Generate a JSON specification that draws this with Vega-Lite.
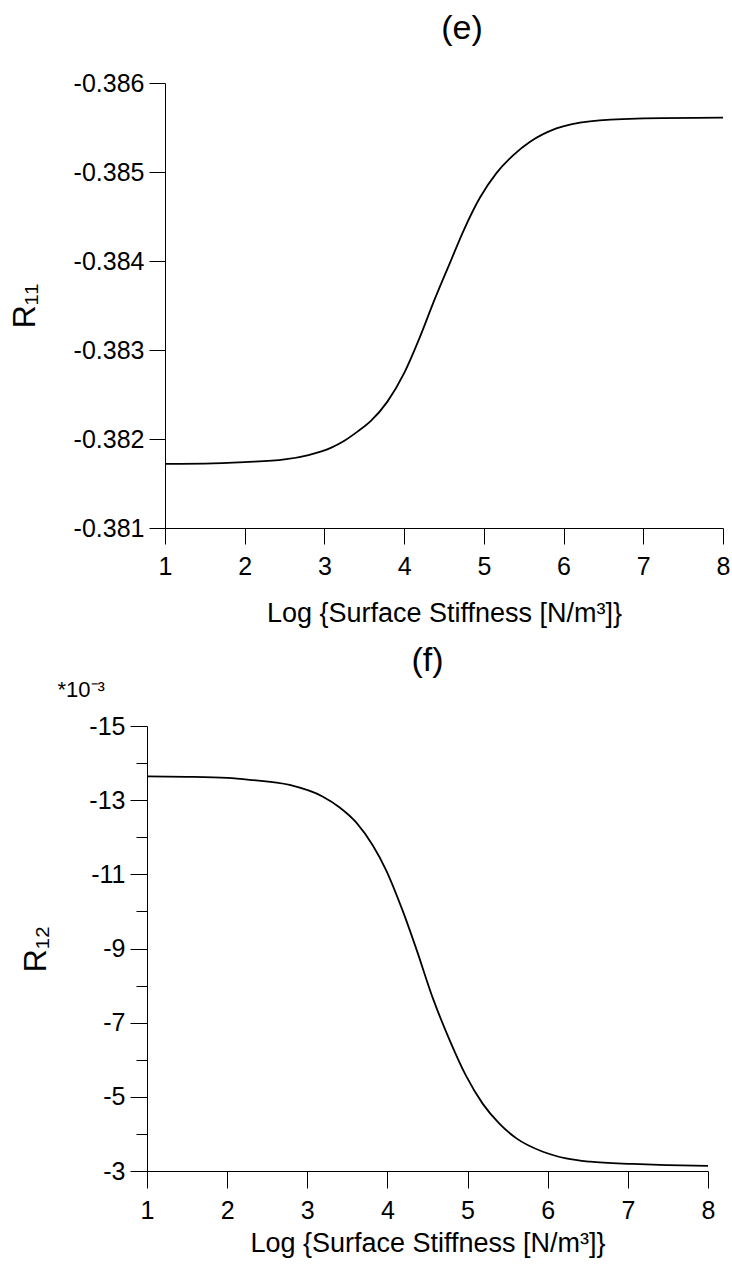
{
  "$schema": "https://vega.github.io/schema/vega-lite/v6.json",
  "padding": {"left": 8, "top": 12, "right": 0, "bottom": 12},
  "config": {
    "view": {"stroke": null},
    "font": "Liberation Sans",
    "axis": {
      "grid": false,
      "domainColor": "black",
      "domainWidth": 1,
      "tickColor": "black",
      "tickWidth": 1,
      "labelColor": "black",
      "labelFontSize": 25,
      "labelFlush": false,
      "labelOverlap": false,
      "titleColor": "black",
      "titleFontWeight": "normal"
    },
    "title": {"fontWeight": "normal", "color": "black"}
  },
  "datasets": {
    "e": [
      {"x": 1, "r": -0.38172},
      {"x": 1.5, "r": -0.381723},
      {"x": 2, "r": -0.38174},
      {"x": 2.5, "r": -0.38177},
      {"x": 2.8, "r": -0.38182},
      {"x": 3.08, "r": -0.3819},
      {"x": 3.25, "r": -0.38198},
      {"x": 3.41, "r": -0.38208},
      {"x": 3.58, "r": -0.3822},
      {"x": 3.79, "r": -0.38242},
      {"x": 4.0, "r": -0.38274},
      {"x": 4.2, "r": -0.38315},
      {"x": 4.37, "r": -0.38354},
      {"x": 4.58, "r": -0.38399},
      {"x": 4.75, "r": -0.38435},
      {"x": 4.95, "r": -0.38471},
      {"x": 5.16, "r": -0.38499},
      {"x": 5.37, "r": -0.38519},
      {"x": 5.58, "r": -0.38534},
      {"x": 5.91, "r": -0.38549},
      {"x": 6.33, "r": -0.38557},
      {"x": 6.91, "r": -0.3856},
      {"x": 8, "r": -0.38561}
    ],
    "f": [
      {"x": 1, "r": -13.64},
      {"x": 1.5, "r": -13.63},
      {"x": 2, "r": -13.6},
      {"x": 2.28, "r": -13.55},
      {"x": 2.78, "r": -13.41},
      {"x": 3.19, "r": -13.1},
      {"x": 3.4, "r": -12.81},
      {"x": 3.61, "r": -12.4},
      {"x": 3.82, "r": -11.77},
      {"x": 3.98, "r": -11.13},
      {"x": 4.19, "r": -10.02},
      {"x": 4.36, "r": -8.99},
      {"x": 4.57, "r": -7.64},
      {"x": 4.78, "r": -6.51},
      {"x": 4.98, "r": -5.57},
      {"x": 5.19, "r": -4.81},
      {"x": 5.4, "r": -4.27},
      {"x": 5.61, "r": -3.88},
      {"x": 5.94, "r": -3.52},
      {"x": 6.23, "r": -3.34},
      {"x": 6.53, "r": -3.25},
      {"x": 7.06, "r": -3.19},
      {"x": 7.5, "r": -3.16},
      {"x": 8, "r": -3.14}
    ]
  },
  "spacing": 18,
  "vconcat": [
    {
      "spacing": 0,
      "bounds": "flush",
      "hconcat": [
        {
          "width": 18,
          "height": 1,
          "data": {"values": []},
          "mark": "point"
        },
        {
          "width": 558,
          "height": 445,
          "data": {"name": "e"},
          "title": {"text": "(e)", "fontSize": 34, "dx": 18, "offset": -2, "baseline": "alphabetic", "anchor": "middle"},
          "mark": {"type": "line", "color": "black", "strokeWidth": 1.8, "interpolate": "monotone"},
          "encoding": {
            "x": {
              "field": "x", "type": "quantitative",
              "scale": {"domain": [1, 8], "nice": false, "zero": false},
              "axis": {"values": [1, 2, 3, 4, 5, 6, 7, 8], "format": "d", "tickSize": 16, "labelPadding": 10,
                       "title": "Log {Surface Stiffness [N/m³]}", "titleFontSize": 27, "titlePadding": 21}
            },
            "y": {
              "field": "r", "type": "quantitative",
              "scale": {"domain": [-0.386, -0.381], "reverse": true, "nice": false, "zero": false},
              "axis": {"values": [-0.386, -0.385, -0.384, -0.383, -0.382, -0.381],
                       "labelExpr": "replace(format(datum.value, '.3f'), '\u2212', '-')",
                       "tickSize": 16, "labelPadding": 5,
                       "title": "R₁₁", "titleFontSize": 32, "titlePadding": 32}
            }
          }
        }
      ]
    },
    {
      "width": 561,
      "height": 445,
      "data": {"name": "f"},
      "title": {"text": "(f)", "fontSize": 34, "offset": -27, "baseline": "alphabetic", "anchor": "middle"},
      "layer": [
        {
          "mark": {"type": "line", "color": "black", "strokeWidth": 1.8, "interpolate": "monotone"},
          "encoding": {
            "x": {
              "field": "x", "type": "quantitative",
              "scale": {"domain": [1, 8], "nice": false, "zero": false},
              "axis": {"values": [1, 2, 3, 4, 5, 6, 7, 8], "format": "d", "tickSize": 17, "labelPadding": 10,
                       "title": "Log {Surface Stiffness [N/m³]}", "titleFontSize": 27, "titlePadding": 7}
            },
            "y": {
              "field": "r", "type": "quantitative",
              "scale": {"domain": [-15, -3], "reverse": true, "nice": false, "zero": false},
              "axis": {"values": [-15, -14, -13, -12, -11, -10, -9, -8, -7, -6, -5, -4, -3],
                       "labelExpr": "datum.value % 2 === 0 ? '' : replace(format(datum.value, 'd'), '\u2212', '-')",
                       "tickSize": {"condition": {"test": "datum.value % 2 !== 0", "value": 17}, "value": 11},
                       "labelPadding": 5,
                       "title": "R₁₂", "titleFontSize": 32, "titlePadding": 36}
            }
          }
        },
        {
          "mark": {"type": "line", "opacity": 0},
          "encoding": {
            "x": {"field": "x", "type": "quantitative"},
            "y": {
              "field": "r", "type": "quantitative",
              "axis": {"orient": "left", "labels": false, "ticks": false, "domain": false,
                       "title": "*10⁻³", "titleAngle": 0, "titleX": -90, "titleY": -30,
                       "titleAlign": "left", "titleBaseline": "alphabetic", "titleFontSize": 22}
            }
          }
        }
      ],
      "resolve": {"axis": {"y": "independent"}}
    }
  ]
}
